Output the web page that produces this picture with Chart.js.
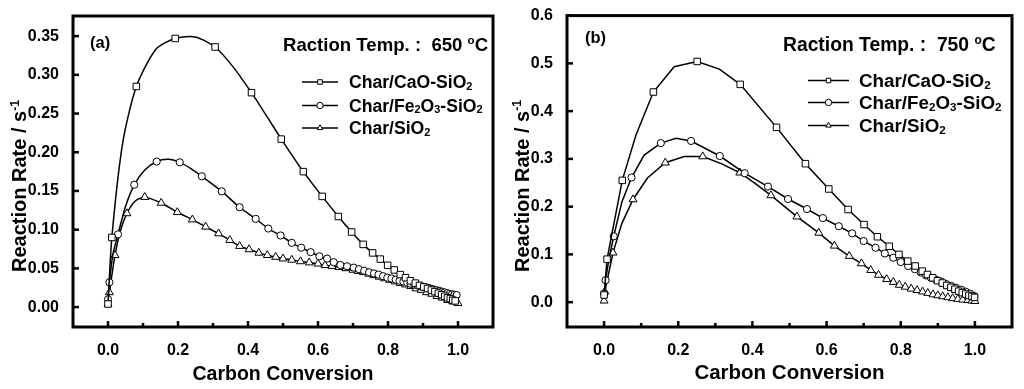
<!DOCTYPE html>
<html>
<head>
<meta charset="utf-8">
<script src="https://cdn.jsdelivr.net/npm/chart.js@4/dist/chart.umd.min.js"></script>
<style>
  body { margin: 0; background: #fff; }
  #wrap { position: relative; width: 1024px; height: 389px; }
  canvas { position: absolute; top: 0; }
</style>
</head>
<body>
<div id="wrap">
  <canvas id="c650" width="512" height="389" style="left:0"></canvas>
  <canvas id="c750" width="512" height="389" style="left:512px"></canvas>
</div>
<script>
// Eixos comuns
const xMajor = [0, 0.2, 0.4, 0.6, 0.8, 1.0];
const xMinor = [0.1, 0.3, 0.5, 0.7, 0.9];
const yTicks650 = [0, 0.05, 0.10, 0.15, 0.20, 0.25, 0.30, 0.35];
const yTicks750 = [0, 0.1, 0.2, 0.3, 0.4, 0.5, 0.6];
const seriesNames = ['Char/CaO-SiO2', 'Char/Fe2O3-SiO2', 'Char/SiO2'];

// (a) 650 C  -- pontos com marcador
const cao650X = [0.000, 0.011, 0.081, 0.192, 0.306, 0.410, 0.495, 0.558, 0.612, 0.658, 0.696, 0.729, 0.756, 0.778, 0.799, 0.818, 0.835, 0.850, 0.864, 0.878, 0.890, 0.902, 0.913, 0.924, 0.934, 0.944, 0.953, 0.962, 0.970, 0.978, 0.985, 0.992];
const cao650Y = [0.004, 0.090, 0.285, 0.347, 0.336, 0.277, 0.217, 0.175, 0.143, 0.117, 0.097, 0.081, 0.070, 0.062, 0.054, 0.048, 0.042, 0.038, 0.034, 0.031, 0.028, 0.026, 0.024, 0.022, 0.020, 0.018, 0.016, 0.014, 0.012, 0.011, 0.009, 0.008];
// pontos intermediarios da curva (sem marcador)
const cao650BendX = [0.042, 0.137, 0.249, 0.358, 0.453];
const cao650BendY = [0.212, 0.333, 0.349, 0.310, 0.247];

const fe650X = [0.000, 0.004, 0.0285, 0.075, 0.139, 0.205, 0.268, 0.325, 0.376, 0.422, 0.458, 0.493, 0.525, 0.552, 0.579, 0.604, 0.626, 0.645, 0.664, 0.683, 0.702, 0.717, 0.732, 0.746, 0.760, 0.773, 0.786, 0.798, 0.810, 0.822, 0.833, 0.844, 0.855, 0.865, 0.875, 0.885, 0.894, 0.903, 0.912, 0.921, 0.930, 0.938, 0.946, 0.954, 0.962, 0.969, 0.976, 0.983, 0.990, 0.996];
const fe650Y = [0.010, 0.032, 0.094, 0.158, 0.188, 0.187, 0.169, 0.1495, 0.129, 0.114, 0.1015, 0.0925, 0.083, 0.0767, 0.071, 0.0656, 0.0626, 0.058, 0.0544, 0.0527, 0.051, 0.049, 0.047, 0.045, 0.0435, 0.042, 0.040, 0.038, 0.037, 0.0355, 0.034, 0.033, 0.0315, 0.030, 0.029, 0.028, 0.027, 0.026, 0.025, 0.024, 0.023, 0.022, 0.021, 0.020, 0.019, 0.018, 0.017, 0.0165, 0.016, 0.0155];
const fe650BendX = [0.014, 0.050, 0.105, 0.172, 0.237];
const fe650BendY = [0.068, 0.130, 0.177, 0.191, 0.179];

const si650X = [0.000, 0.004, 0.020, 0.054, 0.105, 0.152, 0.198, 0.241, 0.279, 0.316, 0.348, 0.376, 0.403, 0.431, 0.455, 0.479, 0.500, 0.525, 0.550, 0.575, 0.600, 0.620, 0.640, 0.660, 0.680, 0.700, 0.715, 0.730, 0.745, 0.760, 0.775, 0.790, 0.805, 0.820, 0.835, 0.850, 0.865, 0.880, 0.895, 0.910, 0.925, 0.940, 0.955, 0.970, 0.985, 1.000];
const si650Y = [0.004, 0.019, 0.067, 0.121, 0.142, 0.1345, 0.1225, 0.113, 0.1037, 0.095, 0.0865, 0.0788, 0.0745, 0.070, 0.067, 0.0647, 0.0626, 0.061, 0.059, 0.0575, 0.056, 0.054, 0.053, 0.0515, 0.050, 0.048, 0.0465, 0.045, 0.043, 0.041, 0.039, 0.037, 0.035, 0.033, 0.031, 0.029, 0.027, 0.024, 0.022, 0.019, 0.017, 0.014, 0.012, 0.009, 0.007, 0.005];
const si650BendX = [0.035, 0.078];
const si650BendY = [0.098, 0.137];

// (b) 750 C
const cao750X = [0.000, 0.008, 0.049, 0.133, 0.251, 0.367, 0.465, 0.543, 0.606, 0.658, 0.701, 0.737, 0.769, 0.795, 0.819, 0.839, 0.858, 0.872, 0.886, 0.899, 0.912, 0.924, 0.935, 0.946, 0.956, 0.966, 0.975, 0.984, 0.992, 0.999];
const cao750Y = [0.015, 0.090, 0.255, 0.440, 0.504, 0.456, 0.366, 0.290, 0.237, 0.194, 0.1625, 0.137, 0.117, 0.100, 0.086, 0.0757, 0.065, 0.058, 0.051, 0.045, 0.040, 0.035, 0.031, 0.027, 0.023, 0.020, 0.017, 0.014, 0.012, 0.010];
const cao750BendX = [0.086, 0.189, 0.311];
const cao750BendY = [0.350, 0.493, 0.488];

const fe750X = [0.000, 0.004, 0.026, 0.074, 0.153, 0.2345, 0.312, 0.379, 0.442, 0.496, 0.547, 0.590, 0.633, 0.669, 0.700, 0.732, 0.757, 0.780, 0.800, 0.820, 0.838, 0.854, 0.868, 0.881, 0.895, 0.909, 0.922, 0.936, 0.949, 0.963, 0.975, 0.987, 0.998];
const fe750Y = [0.018, 0.046, 0.138, 0.261, 0.333, 0.3375, 0.306, 0.270, 0.242, 0.216, 0.195, 0.176, 0.159, 0.144, 0.128, 0.114, 0.102, 0.093, 0.084, 0.0757, 0.069, 0.062, 0.056, 0.0515, 0.047, 0.043, 0.038, 0.034, 0.030, 0.026, 0.022, 0.018, 0.013];
const fe750BendX = [0.013, 0.048, 0.108, 0.194];
const fe750BendY = [0.090, 0.210, 0.308, 0.343];

const si750X = [0.000, 0.002, 0.024, 0.078, 0.165, 0.266, 0.366, 0.450, 0.520, 0.579, 0.621, 0.661, 0.694, 0.719, 0.740, 0.762, 0.780, 0.796, 0.812, 0.828, 0.844, 0.859, 0.873, 0.887, 0.900, 0.913, 0.927, 0.940, 0.954, 0.967, 0.981, 0.992, 1.000];
const si750Y = [0.003, 0.022, 0.1035, 0.215, 0.292, 0.305, 0.271, 0.2235, 0.179, 0.145, 0.118, 0.0965, 0.081, 0.067, 0.057, 0.048, 0.042, 0.036, 0.032, 0.028, 0.025, 0.022, 0.019, 0.016, 0.014, 0.012, 0.010, 0.008, 0.0065, 0.005, 0.004, 0.003, 0.002];
const si750BendX = [0.048, 0.117, 0.216, 0.316, 0.408];
const si750BendY = [0.165, 0.260, 0.305, 0.290, 0.248];

const FONT = "'Liberation Sans', Arial, sans-serif";
const markerStyles = ['rect', 'circle', 'triangle'];
const markerRadius = [4.6, 3.6, 4.6];

Chart.defaults.font.family = FONT;
Chart.defaults.color = '#000';

// junta pontos com e sem marcador numa lista ordenada
function buildPoints(xs, ys, bx, by) {
    const pts = xs.map((x, i) => ({ x: x, y: ys[i], m: true }));
    bx.forEach((x, i) => pts.push({ x: x, y: by[i], m: false }));
    return pts.sort((a, b) => a.x - b.x);
}

// texto com subscrito (1) e sobrescrito (2)
function drawRich(ctx, parts, x, y, size) {
    ctx.textAlign = 'left';
    ctx.textBaseline = 'alphabetic';
    parts.forEach(([txt, kind]) => {
        let s = size, dy = 0;
        if (kind === 1) { s = size * 0.62; dy = size * 0.08; }
        if (kind === 2) { s = size * 0.62; dy = -size * 0.36; }
        ctx.font = `bold ${s}px ${FONT}`;
        ctx.fillText(txt, x, y + dy);
        x += ctx.measureText(txt).width;
    });
}

// digitos viram subscrito: Fe2O3 -> Fe₂O₃
function chemParts(name) {
    return name.split(/(\d)/).filter(p => p).map(p => [p, /\d/.test(p) ? 1 : 0]);
}

function drawMarker(ctx, style, x, y, r) {
    ctx.beginPath();
    if (style === 'rect') {
        const s = Math.SQRT1_2 * r;
        ctx.rect(x - s, y - s, 2 * s, 2 * s);
    } else if (style === 'circle') {
        ctx.arc(x, y, r, 0, Math.PI * 2);
    } else {
        for (let k = 0; k < 3; k++) {
            const a = k * 2 * Math.PI / 3;
            const px = x + Math.sin(a) * r, py = y - Math.cos(a) * r;
            if (k === 0) ctx.moveTo(px, py); else ctx.lineTo(px, py);
        }
        ctx.closePath();
    }
    ctx.fillStyle = '#fff';
    ctx.fill();
    ctx.lineWidth = 1;
    ctx.strokeStyle = '#000';
    ctx.stroke();
}

// moldura, ticks internos e textos do painel
function panelPlugin(p) {
    return {
        id: 'panel' + p.tag,
        afterDatasetsDraw(chart) {
            const ctx = chart.ctx;
            const a = chart.chartArea;
            const xs = chart.scales.x, ys = chart.scales.y;
            ctx.save();
            ctx.strokeStyle = '#000';
            ctx.lineWidth = 2.5;
            xMajor.forEach(v => {
                const px = xs.getPixelForValue(v);
                ctx.beginPath(); ctx.moveTo(px, a.bottom); ctx.lineTo(px, a.bottom - 6); ctx.stroke();
            });
            xMinor.forEach(v => {
                const px = xs.getPixelForValue(v);
                ctx.beginPath(); ctx.moveTo(px, a.bottom); ctx.lineTo(px, a.bottom - 4); ctx.stroke();
            });
            p.yTicks.forEach(v => {
                const py = ys.getPixelForValue(v);
                ctx.beginPath(); ctx.moveTo(a.left, py); ctx.lineTo(a.left + 6, py); ctx.stroke();
            });
            ctx.lineWidth = 3;
            ctx.strokeRect(a.left, a.top, a.right - a.left, a.bottom - a.top);

            ctx.fillStyle = '#000';
            // (a) / (b)
            ctx.font = `bold 16.5px ${FONT}`;
            ctx.textAlign = 'left';
            ctx.textBaseline = 'middle';
            ctx.fillText(p.tag, p.tagX, p.tagY);

            // temperatura
            drawRich(ctx, [[p.tempText + ' ', 0], ['o', 2], ['C', 0]], p.tempX, p.tempY, p.tempSize);

            // legenda
            seriesNames.forEach((name, i) => {
                const ly = p.legY[i];
                ctx.beginPath();
                ctx.lineWidth = 1.5;
                ctx.moveTo(p.legX1, ly); ctx.lineTo(p.legX2, ly);
                ctx.stroke();
                drawMarker(ctx, markerStyles[i], (p.legX1 + p.legX2) / 2, ly, 3.2);
                ctx.fillStyle = '#000';
                drawRich(ctx, chemParts(name), p.legTextX, ly + p.legSize * 0.36, p.legSize);
            });

            // titulo do eixo y com s^-1
            ctx.translate(p.yTitleX, 272);
            ctx.rotate(-Math.PI / 2);
            drawRich(ctx, [['Reaction Rate / s', 0], ['-1', 2]], 0, 0, 20);
            ctx.restore();
        }
    };
}

function makePanel(canvasId, p) {
    const datasets = p.series.map((s, i) => ({
        label: seriesNames[i],
        data: buildPoints(s[0], s[1], s[2], s[3]),
        showLine: true,
        borderColor: '#000',
        borderWidth: 1.5,
        tension: p.tension,
        pointStyle: markerStyles[i],
        pointRadius: ctx => (ctx.raw && ctx.raw.m ? markerRadius[i] : 0),
        pointBackgroundColor: '#fff',
        pointBorderColor: '#000',
        pointBorderWidth: 1
    }));

    return new Chart(document.getElementById(canvasId), {
        type: 'scatter',
        data: { datasets: datasets },
        options: {
            responsive: false,
            animation: false,
            devicePixelRatio: 1,
            events: [],
            layout: { padding: { top: p.padTop, right: p.padRight, left: 0, bottom: 0 } },
            plugins: { legend: { display: false }, tooltip: { enabled: false } },
            scales: {
                x: {
                    type: 'linear', min: -0.1, max: 1.1,
                    grid: { display: false }, border: { display: false },
                    afterBuildTicks: sc => { sc.ticks = xMajor.map(v => ({ value: v })); },
                    afterFit: sc => { sc.height = 62; },
                    ticks: { font: { size: 16, weight: 'bold' }, padding: 6, color: '#000',
                             callback: v => v.toFixed(1) },
                    title: { display: true, text: 'Carbon Conversion', color: '#000',
                             font: { size: p.xTitleSize, weight: 'bold' }, padding: { top: 0, bottom: 3 } }
                },
                y: {
                    type: 'linear', min: p.yMin, max: p.yMax,
                    grid: { display: false }, border: { display: false },
                    afterBuildTicks: sc => { sc.ticks = p.yTicks.map(v => ({ value: v })); },
                    afterFit: sc => { sc.width = p.yWidth; },
                    ticks: { font: { size: 16, weight: 'bold' }, padding: 6, color: '#000',
                             callback: v => v.toFixed(p.yDecimals) }
                }
            }
        },
        plugins: [panelPlugin(p)]
    });
}

makePanel('c650', {
    tag: '(a)', tagX: 90, tagY: 43,
    series: [[cao650X, cao650Y, cao650BendX, cao650BendY],
             [fe650X, fe650Y, fe650BendX, fe650BendY],
             [si650X, si650Y, si650BendX, si650BendY]],
    yMin: -0.0257, yMax: 0.376, yTicks: yTicks650, yDecimals: 2,
    yWidth: 73, padTop: 16, padRight: 19, tension: 0.25,
    xTitleSize: 19.5, yTitleX: 26,
    tempText: 'Raction Temp. :  650', tempX: 283, tempY: 51, tempSize: 18.6,
    legY: [82, 105.5, 128], legX1: 302, legX2: 338, legTextX: 349, legSize: 17.6
});

makePanel('c750', {
    tag: '(b)', tagX: 73, tagY: 38,
    series: [[cao750X, cao750Y, cao750BendX, cao750BendY],
             [fe750X, fe750Y, fe750BendX, fe750BendY],
             [si750X, si750Y, si750BendX, si750BendY]],
    yMin: -0.052, yMax: 0.6, yTicks: yTicks750, yDecimals: 1,
    yWidth: 55, padTop: 14, padRight: 12, tension: 0,
    xTitleSize: 20.5, yTitleX: 16.5,
    tempText: 'Raction Temp. :  750', tempX: 271, tempY: 51, tempSize: 19.3,
    legY: [80.5, 102.5, 125.5], legX1: 296, legX2: 337, legTextX: 347, legSize: 18.8
});
</script>
</body>
</html>
